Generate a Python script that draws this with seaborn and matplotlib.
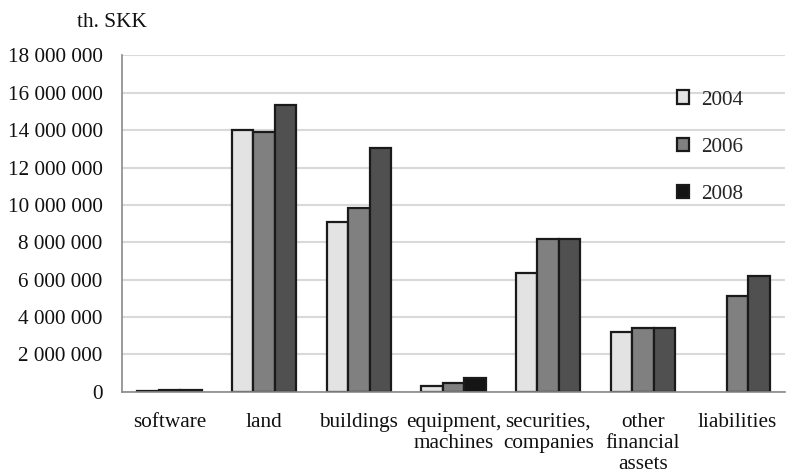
import matplotlib
matplotlib.use("Agg")
import matplotlib.pyplot as plt
from matplotlib.patches import Patch
from matplotlib.ticker import FuncFormatter, FixedLocator
import numpy as np
import pandas as pd
import seaborn as sns

# Asset categories and values (thousands of SKK) per year
categories = ["software", "land", "buildings", "equipment,\nmachines",
              "securities,\ncompanies", "other\nfinancial\nassets", "liabilities"]
years = ["2004", "2006", "2008"]
values_2004 = [60000, 14000000, 9100000, 300000, 6330000, 3180000, None]
values_2006 = [70000, 13900000, 9830000, 440000, 8160000, 3390000, 5100000]
values_2008 = [110000, 15330000, 13050000, 720000, 8160000, 3390000, 6180000]
y_ticks = [0, 2000000, 4000000, 6000000, 8000000, 10000000, 12000000,
           14000000, 16000000, 18000000]
unit_label = "th. SKK"

rows = []
for year, vals in zip(years, [values_2004, values_2006, values_2008]):
    for cat, v in zip(categories, vals):
        if v is not None:
            rows.append({"category": cat, "year": year, "value": v})
df = pd.DataFrame(rows)

sns.set_theme(style="white")
plt.rcParams["font.family"] = ["Liberation Serif", "DejaVu Serif"]

fill_colors = {"2004": "#e2e3e2", "2006": "#808080", "2008": "#505050"}
legend_colors = {"2004": "#e2e3e2", "2006": "#808080", "2008": "#151515"}
edge = "#1a1a1a"
fs = 15.3

fig = plt.figure(figsize=(7.95, 4.75), dpi=100)
ax = fig.add_axes([0.1535, 0.1754, 0.8339, 0.7078])

sns.barplot(data=df, x="category", y="value", hue="year", order=categories,
            hue_order=years, palette=fill_colors, width=0.68,
            edgecolor=edge, linewidth=1.6, saturation=1, legend=False,
            zorder=3, ax=ax)

# 2008 bar for equipment drawn in black
cat_idx = categories.index("equipment,\nmachines")
for patch in ax.patches:
    cx = patch.get_x() + patch.get_width() / 2
    if abs(cx - (cat_idx + 0.68 / 3)) < 0.05:
        patch.set_facecolor("#151515")

ax.set_xlim(-0.5, len(categories) - 0.5)
ax.set_ylim(0, 18000000)
ax.set_yticks(y_ticks)
ax.yaxis.set_major_formatter(FuncFormatter(lambda v, p: f"{v:,.0f}".replace(",", " ")))
ax.grid(axis="y", color="#d9d9d9", linewidth=1.5, zorder=0)
ax.grid(axis="x", visible=False)

for side in ["top", "right"]:
    ax.spines[side].set_visible(False)
for side in ["left", "bottom"]:
    ax.spines[side].set_color("#8a8a8a")
    ax.spines[side].set_linewidth(1.2)
    ax.spines[side].set_zorder(4)

ax.set_xlabel("")
ax.set_ylabel("")
ax.tick_params(axis="y", which="major", direction="out", length=6, width=1.2,
               color="#8a8a8a", labelsize=fs, labelcolor="#111111", pad=8)
ax.tick_params(axis="x", which="major", length=0, labelsize=fs,
               labelcolor="#111111", pad=15)
ax.xaxis.set_minor_locator(FixedLocator(np.arange(-0.5, len(categories), 1.0)))
ax.tick_params(axis="x", which="minor", direction="out", length=6, width=1.2,
               color="#8a8a8a")
for lbl in ax.get_xticklabels():
    lbl.set_linespacing(1.17)
    lbl.set_verticalalignment("top")

fig.text(0.141, 0.953, unit_label, fontsize=fs, color="#111111",
         ha="center", va="center")

handles = [Patch(facecolor=legend_colors[y], edgecolor=edge, linewidth=1.6)
           for y in years]
ax.legend(handles, years, loc="upper left", bbox_to_anchor=(0.838, 0.832),
          bbox_transform=fig.transFigure, frameon=False, fontsize=fs,
          handlelength=0.58, handleheight=0.58, handletextpad=0.55,
          labelspacing=1.32, borderpad=0)

fig.savefig("out.png", dpi=100)
